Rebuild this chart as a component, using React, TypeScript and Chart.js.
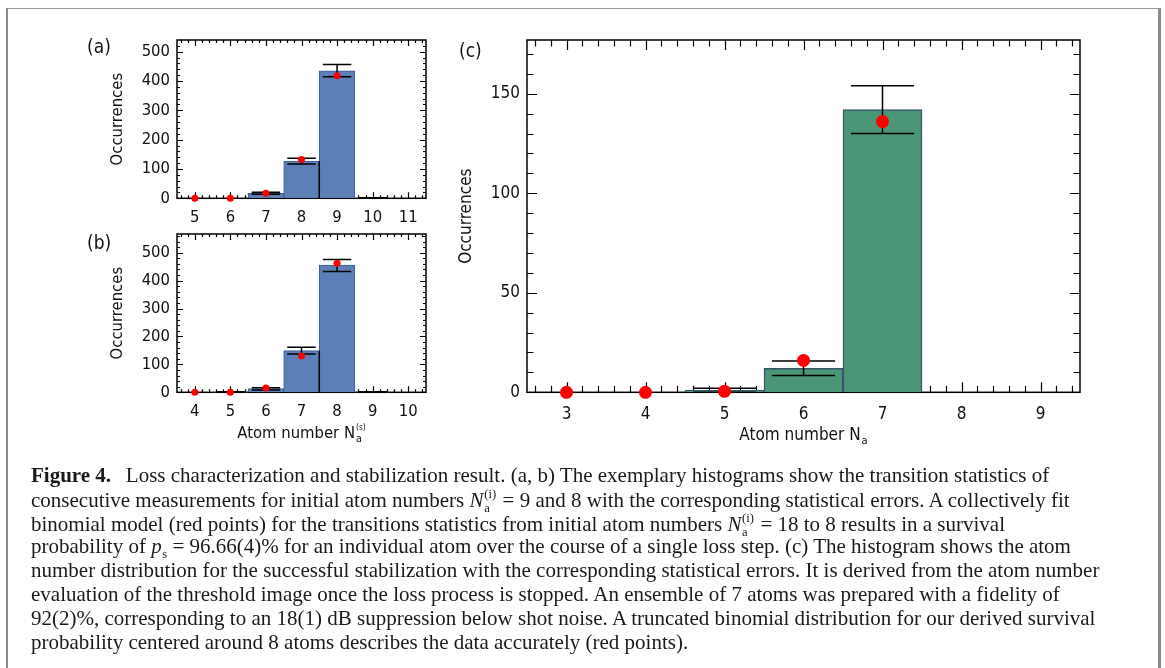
import React, { useEffect, useRef } from "react";
import { Chart, registerables } from "chart.js";

Chart.register(...registerables);

const W = 1165;
const H = 668;

// ---------- Panel (a): initial atom number 9 ----------
const A_X_TICKS = [5, 6, 7, 8, 9, 10, 11];
const A_Y_TICKS = [0, 100, 200, 300, 400, 500];
const A_BAR_X = [7, 8, 9, 10];
const A_BAR_Y = [17, 127, 435, 1];
const A_ERR_X = [7, 8, 9, 10];
const A_ERR_LO = [14, 117, 415, 0];
const A_ERR_HI = [21, 137, 456, 2];
const A_FIT_X = [5, 6, 7, 8, 9];
const A_FIT_Y = [0, 0, 17, 132, 418];
const A_EDGE_X = [8.5];
const A_EDGE_Y = [127];

// ---------- Panel (b): initial atom number 8 ----------
const B_X_TICKS = [4, 5, 6, 7, 8, 9, 10];
const B_Y_TICKS = [0, 100, 200, 300, 400, 500];
const B_BAR_X = [5, 6, 7, 8, 9];
const B_BAR_Y = [1, 13, 149, 456, 1];
const B_ERR_X = [5, 6, 7, 8, 9];
const B_ERR_LO = [0, 8, 137, 433, 0];
const B_ERR_HI = [2, 16, 161, 476, 2];
const B_FIT_X = [4, 5, 6, 7, 8];
const B_FIT_Y = [0, 0, 15, 130, 462];
const B_EDGE_X = [7.5];
const B_EDGE_Y = [149];

// ---------- Panel (c): stabilization result ----------
const C_X_TICKS = [3, 4, 5, 6, 7, 8, 9];
const C_Y_TICKS = [0, 50, 100, 150];
const C_BAR_X = [5, 6, 7];
const C_BAR_Y = [1, 12, 142];
const C_ERR_X = [5, 6, 7];
const C_ERR_LO = [0, 8.5, 130];
const C_ERR_HI = [2, 15.7, 154];
const C_FIT_X = [3, 4, 5, 6, 7];
const C_FIT_Y = [0, 0, 0.5, 16, 136];
const C_EDGE_X: number[] = [];
const C_EDGE_Y: number[] = [];

const FONT = '"DejaVu Sans Condensed", "DejaVu Sans", Verdana, sans-serif';

type Panel = {
  label: string;
  labelX: number;
  labelY: number;
  area: { left: number; top: number; right: number; bottom: number };
  xMin: number;
  xMax: number;
  yMin: number;
  yMax: number;
  xTicks: number[];
  yTicks: number[];
  xMinor: number;
  yMajor: number;
  yMinor: number;
  barX: number[];
  barY: number[];
  errX: number[];
  errLo: number[];
  errHi: number[];
  fitX: number[];
  fitY: number[];
  edgeX: number[];
  edgeY: number[];
  barColor: string;
  barBorder: string;
  barBorderWidth: number;
  dotRadius: number;
  majorLen: number;
  minorLen: number;
  frameWidth: number;
  yTitleOffset: number;
  xTitle: boolean;
  xSup: string;
  xTitleBaseline: number;
  xTickPad: number;
  fontSize: number;
};

const PANELS: Panel[] = [
  {
    label: "(a)", labelX: 87, labelY: 48,
    area: { left: 177, top: 40, right: 426, bottom: 198.3 },
    xMin: 4.5, xMax: 11.5, yMin: 0, yMax: 540,
    xTicks: A_X_TICKS, yTicks: A_Y_TICKS, xMinor: 0.2, yMajor: 100, yMinor: 20,
    barX: A_BAR_X, barY: A_BAR_Y, errX: A_ERR_X, errLo: A_ERR_LO, errHi: A_ERR_HI,
    fitX: A_FIT_X, fitY: A_FIT_Y, edgeX: A_EDGE_X, edgeY: A_EDGE_Y,
    barColor: "#5b7fb6", barBorder: "#3f5f8f", barBorderWidth: 1, dotRadius: 3.5,
    majorLen: 6, minorLen: 3, frameWidth: 1.5, yTitleOffset: 59,
    xTitle: false, xSup: "", xTitleBaseline: 0, xTickPad: 10, fontSize: 16.5,
  },
  {
    label: "(b)", labelX: 87, labelY: 244,
    area: { left: 177, top: 234, right: 426, bottom: 392.3 },
    xMin: 3.5, xMax: 10.5, yMin: 0, yMax: 567,
    xTicks: B_X_TICKS, yTicks: B_Y_TICKS, xMinor: 0.2, yMajor: 100, yMinor: 20,
    barX: B_BAR_X, barY: B_BAR_Y, errX: B_ERR_X, errLo: B_ERR_LO, errHi: B_ERR_HI,
    fitX: B_FIT_X, fitY: B_FIT_Y, edgeX: B_EDGE_X, edgeY: B_EDGE_Y,
    barColor: "#5b7fb6", barBorder: "#3f5f8f", barBorderWidth: 1, dotRadius: 3.5,
    majorLen: 6, minorLen: 3, frameWidth: 1.5, yTitleOffset: 59,
    xTitle: true, xSup: "(s)", xTitleBaseline: 438, xTickPad: 10, fontSize: 16.5,
  },
  {
    label: "(c)", labelX: 459, labelY: 52,
    area: { left: 527, top: 40, right: 1080, bottom: 392.3 },
    xMin: 2.5, xMax: 9.5, yMin: 0, yMax: 177,
    xTicks: C_X_TICKS, yTicks: C_Y_TICKS, xMinor: 0.2, yMajor: 50, yMinor: 10,
    barX: C_BAR_X, barY: C_BAR_Y, errX: C_ERR_X, errLo: C_ERR_LO, errHi: C_ERR_HI,
    fitX: C_FIT_X, fitY: C_FIT_Y, edgeX: C_EDGE_X, edgeY: C_EDGE_Y,
    barColor: "#4a9677", barBorder: "#37566a", barBorderWidth: 1.5, dotRadius: 6.5,
    majorLen: 10, minorLen: 6.5, frameWidth: 1.5, yTitleOffset: 60,
    xTitle: true, xSup: "", xTitleBaseline: 440, xTickPad: 12, fontSize: 17,
  },
];

function steps(min: number, max: number, step: number): number[] {
  const out: number[] = [];
  const s = Math.ceil(min / step - 1e-9);
  for (let k = s; k * step <= max + 1e-9; k++) out.push(+(k * step).toFixed(6));
  return out;
}
const isMult = (v: number, m: number) => Math.abs(v / m - Math.round(v / m)) < 1e-6;

function makeDeco(p: Panel) {
  return {
    id: "panelDeco",
    beforeDatasetsDraw(chart: any) {
      const ctx = chart.ctx as CanvasRenderingContext2D;
      const xs = chart.scales.x;
      const ys = chart.scales.y;
      const { left, right, top, bottom } = chart.chartArea;
      ctx.save();
      ctx.strokeStyle = "#000";
      ctx.lineWidth = 1.2;
      ctx.beginPath();
      for (const v of steps(p.xMin, p.xMax, p.xMinor)) {
        if (v <= p.xMin + 1e-6 || v >= p.xMax - 1e-6) continue;
        const px = Math.round(xs.getPixelForValue(v)) + 0.5;
        const len = isMult(v, 1) ? p.majorLen : p.minorLen;
        ctx.moveTo(px, bottom); ctx.lineTo(px, bottom - len);
        ctx.moveTo(px, top); ctx.lineTo(px, top + len);
      }
      for (const v of steps(p.yMin, p.yMax, p.yMinor)) {
        if (v <= p.yMin + 1e-6 || v >= p.yMax - 1e-6) continue;
        const py = Math.round(ys.getPixelForValue(v)) + 0.5;
        const len = isMult(v, p.yMajor) ? p.majorLen : p.minorLen;
        ctx.moveTo(left, py); ctx.lineTo(left + len, py);
        ctx.moveTo(right, py); ctx.lineTo(right - len, py);
      }
      ctx.stroke();
      ctx.lineWidth = p.frameWidth;
      ctx.strokeRect(left, top, right - left, bottom - top);
      ctx.restore();
    },
    afterDatasetDraw(chart: any, args: any) {
      if (args.index !== 0) return;
      const ctx = chart.ctx as CanvasRenderingContext2D;
      const xs = chart.scales.x;
      const ys = chart.scales.y;
      ctx.save();
      ctx.strokeStyle = "#000";
      ctx.lineWidth = 1.5;
      ctx.beginPath();
      p.edgeX.forEach((x, i) => {
        const px = xs.getPixelForValue(x);
        ctx.moveTo(px, ys.getPixelForValue(p.edgeY[i]));
        ctx.lineTo(px, ys.getPixelForValue(0));
      });
      p.errX.forEach((x, i) => {
        const pc = xs.getPixelForValue(x);
        const pl = xs.getPixelForValue(x - 0.4);
        const pr = xs.getPixelForValue(x + 0.4);
        const yl = ys.getPixelForValue(p.errLo[i]);
        const yh = ys.getPixelForValue(p.errHi[i]);
        ctx.moveTo(pc, yl); ctx.lineTo(pc, yh);
        ctx.moveTo(pl, yl); ctx.lineTo(pr, yl);
        ctx.moveTo(pl, yh); ctx.lineTo(pr, yh);
      });
      ctx.stroke();
      ctx.restore();
    },
    afterDraw(chart: any) {
      const ctx = chart.ctx as CanvasRenderingContext2D;
      const { left, right, top, bottom } = chart.chartArea;
      const fs = p.fontSize;
      ctx.save();
      ctx.fillStyle = "#111";
      // panel label
      ctx.font = `19px ${FONT}`;
      ctx.textAlign = "left";
      ctx.textBaseline = "middle";
      ctx.fillText(p.label, p.labelX, p.labelY);
      // y title
      ctx.save();
      ctx.font = `${fs}px ${FONT}`;
      ctx.translate(left - p.yTitleOffset, (top + bottom) / 2);
      ctx.rotate(-Math.PI / 2);
      ctx.textAlign = "center";
      ctx.textBaseline = "middle";
      ctx.fillText("Occurrences", 0, 0);
      ctx.restore();
      // x title
      if (p.xTitle) {
        const main = "Atom number N";
        ctx.font = `${fs}px ${FONT}`;
        const wMain = ctx.measureText(main).width;
        ctx.font = `${fs * 0.65}px ${FONT}`;
        const wSub = ctx.measureText("a").width;
        ctx.font = `${fs * 0.5}px ${FONT}`;
        const wSup = p.xSup ? ctx.measureText(p.xSup).width : 0;
        const total = wMain + 1 + Math.max(wSub, wSup);
        const x0 = (left + right) / 2 - total / 2;
        const b = p.xTitleBaseline;
        ctx.textAlign = "left";
        ctx.textBaseline = "alphabetic";
        ctx.font = `${fs}px ${FONT}`;
        ctx.fillText(main, x0, b);
        ctx.font = `${fs * 0.65}px ${FONT}`;
        ctx.fillText("a", x0 + wMain + 1, b + 4);
        if (p.xSup) {
          ctx.font = `${fs * 0.5}px ${FONT}`;
          ctx.fillText(p.xSup, x0 + wMain + 1, b - 8);
        }
      }
      ctx.restore();
    },
  };
}

function buildChart(canvas: HTMLCanvasElement, p: Panel) {
  const a = p.area;
  return new Chart(canvas, {
    type: "bar",
    data: {
      datasets: [
        {
          type: "bar",
          data: p.barX.map((x, i) => ({ x, y: p.barY[i] })),
          backgroundColor: p.barColor,
          borderColor: p.barBorder,
          borderWidth: p.barBorderWidth,
          barPercentage: 1,
          categoryPercentage: 1,
          order: 2,
        } as any,
        {
          type: "scatter",
          data: p.fitX.map((x, i) => ({ x, y: p.fitY[i] })),
          pointRadius: p.dotRadius,
          pointBackgroundColor: "#ff0000",
          pointBorderWidth: 0,
          pointBorderColor: "#ff0000",
          clip: false,
          order: 1,
        } as any,
      ],
    },
    options: {
      responsive: false,
      animation: false,
      devicePixelRatio: 1,
      events: [],
      layout: { padding: { left: 0, top: a.top, right: W - a.right, bottom: 0 } },
      plugins: { legend: { display: false }, tooltip: { enabled: false }, title: { display: false } },
      scales: {
        x: {
          type: "linear",
          min: p.xMin,
          max: p.xMax,
          offset: false,
          grid: { display: false, drawTicks: false },
          border: { display: false },
          ticks: {
            autoSkip: false,
            maxRotation: 0,
            padding: p.xTickPad,
            color: "#111",
            font: { family: FONT, size: p.fontSize },
            callback: (v: any) => String(v),
          },
          afterBuildTicks: (ax: any) => {
            ax.ticks = p.xTicks.map((v) => ({ value: v }));
          },
          afterFit: (ax: any) => {
            ax.height = H - a.bottom;
          },
        },
        y: {
          type: "linear",
          min: p.yMin,
          max: p.yMax,
          grid: { display: false, drawTicks: false },
          border: { display: false },
          ticks: {
            padding: 7,
            color: "#111",
            font: { family: FONT, size: p.fontSize },
            callback: (v: any) => String(v),
          },
          afterBuildTicks: (ax: any) => {
            ax.ticks = p.yTicks.map((v) => ({ value: v }));
          },
          afterFit: (ax: any) => {
            ax.width = a.left;
          },
        },
      },
    } as any,
    plugins: [makeDeco(p) as any],
  });
}

function PanelCanvas({ panel }: { panel: Panel }) {
  const ref = useRef<HTMLCanvasElement>(null);
  useEffect(() => {
    const chart = buildChart(ref.current as HTMLCanvasElement, panel);
    return () => chart.destroy();
  }, [panel]);
  return (
    <canvas
      ref={ref}
      width={W}
      height={H}
      style={{ position: "absolute", left: 0, top: 0, width: W, height: H }}
    />
  );
}

const Nai = () => (
  <span style={{ whiteSpace: "nowrap" }}>
    <i>N</i>
    <span
      style={{
        display: "inline-block",
        verticalAlign: "-0.42em",
        fontSize: "0.6em",
        lineHeight: 1.15,
        marginLeft: "0.05em",
        marginRight: "0.1em",
      }}
    >
      <span style={{ display: "block" }}>(i)</span>
      <span style={{ display: "block" }}>a</span>
    </span>
  </span>
);

const Ps = () => (
  <span style={{ whiteSpace: "nowrap" }}>
    <i>p</i>
    <span style={{ fontSize: "0.6em", position: "relative", top: "0.35em", marginLeft: "0.05em" }}>s</span>
  </span>
);

const CAPTION_LINES: React.ReactNode[] = [
  <>
    <b>Figure 4.</b>
    {"\u2002\u2009"}Loss characterization and stabilization result. (a, b) The exemplary histograms show the transition statistics of
  </>,
  <>
    consecutive measurements for initial atom numbers <Nai /> = 9 and 8 with the corresponding statistical errors. A collectively fit
  </>,
  <>
    binomial model (red points) for the transitions statistics from initial atom numbers <Nai /> = 18 to 8 results in a survival
  </>,
  <>
    probability of <Ps /> = 96.66(4)% for an individual atom over the course of a single loss step. (c) The histogram shows the atom
  </>,
  <>number distribution for the successful stabilization with the corresponding statistical errors. It is derived from the atom number</>,
  <>evaluation of the threshold image once the loss process is stopped. An ensemble of 7 atoms was prepared with a fidelity of</>,
  <>92(2)%, corresponding to an 18(1) dB suppression below shot noise. A truncated binomial distribution for our derived survival</>,
  <>probability centered around 8 atoms describes the data accurately (red points).</>,
];

export default function App() {
  return (
    <div
      style={{
        position: "absolute",
        left: 0,
        top: 0,
        width: W,
        height: H,
        overflow: "hidden",
        background: "#fff",
      }}
    >
      <div
        style={{
          position: "absolute",
          left: 6,
          top: 8,
          width: 1155,
          height: 700,
          borderLeft: "2px solid #8a8a8a",
          borderTop: "1px solid #9a9a9a",
          borderRight: "3px solid #8a8a8a",
          boxSizing: "border-box",
        }}
      />
      {PANELS.map((p) => (
        <PanelCanvas key={p.label} panel={p} />
      ))}
      {CAPTION_LINES.map((line, i) => (
        <div
          key={i}
          style={{
            position: "absolute",
            left: 31,
            top: 463 + i * 23.8,
            whiteSpace: "nowrap",
            fontFamily: '"Liberation Serif", "Times New Roman", serif',
            fontSize: 21,
            lineHeight: "24px",
            color: "#1a1a1a",
          }}
        >
          {line}
        </div>
      ))}
    </div>
  );
}
